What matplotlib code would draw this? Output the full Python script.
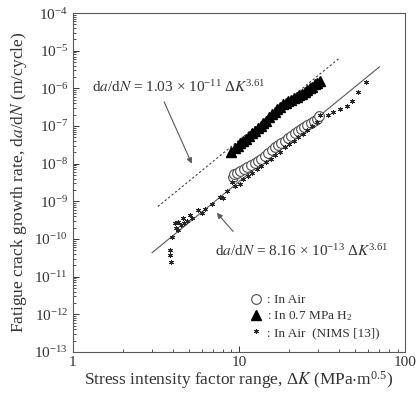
import numpy as np
import matplotlib
matplotlib.use("Agg")
import matplotlib.pyplot as plt
from matplotlib.ticker import LogLocator, NullFormatter

plt.rcParams['font.family'] = ['Liberation Serif', 'DejaVu Serif']
plt.rcParams['mathtext.fontset'] = 'stix'
plt.rcParams['mathtext.default'] = 'regular'

# In Air (open circles)
dk_air = [9.2, 9.3, 9.7, 10.2, 10.7, 11.2, 11.8, 12.4, 13.0, 13.6, 14.3, 15.0,
          15.7, 16.4, 17.2, 18.0, 18.8, 19.7, 20.6, 21.6, 22.6, 23.6, 24.7,
          25.8, 27.0, 28.2, 29.4, 30.5]
dadn_air = [4.5e-9, 5.4e-9, 5.6e-9, 6.4e-9, 7.3e-9, 8.3e-9, 9.4e-9, 1.06e-8,
            1.2e-8, 1.36e-8, 1.6e-8, 1.9e-8, 2.3e-8, 2.7e-8, 3.1e-8, 3.5e-8,
            4.1e-8, 4.8e-8, 5.6e-8, 6.5e-8, 7.4e-8, 8.4e-8, 9.5e-8, 1.06e-7,
            1.18e-7, 1.32e-7, 1.5e-7, 1.8e-7]

# In 0.7 MPa hydrogen (filled triangles)
dk_h2 = [9.0, 9.4, 9.8, 10.2, 10.6, 11.0, 11.5, 12.0, 12.5, 13.0, 13.5, 14.0,
         14.6, 15.2, 15.8, 16.4, 17.0, 17.7, 18.4, 19.1, 19.8, 20.6, 21.4,
         22.2, 23.0, 23.9, 24.8, 25.7, 26.6, 27.6, 28.6, 29.6, 30.6]
dadn_h2 = [2.1e-8, 2.6e-8, 3.0e-8, 3.5e-8, 4.1e-8, 4.6e-8, 5.5e-8, 6.4e-8,
           7.4e-8, 8.8e-8, 1.02e-7, 1.18e-7, 1.4e-7, 1.7e-7, 2.05e-7, 2.4e-7,
           2.9e-7, 3.3e-7, 3.8e-7, 4.2e-7, 4.6e-7, 5.0e-7, 5.5e-7, 6.0e-7,
           6.6e-7, 7.3e-7, 8.1e-7, 9.0e-7, 1.0e-6, 1.12e-6, 1.27e-6, 1.42e-6,
           1.6e-6]

# In Air, NIMS reference data
dk_nims = [3.84, 3.86, 3.88, 3.98, 4.1, 4.15, 4.3, 4.3, 4.45, 4.6, 4.7, 4.85,
           5.07, 5.2, 5.69, 6.0, 6.24, 6.85, 7.68, 8.0, 8.43, 9.05, 9.5, 10.1,
           10.6, 11.3, 12.0, 12.8, 13.6, 14.5, 15.5, 16.5, 17.6, 18.8, 20.0,
           21.3, 22.7, 24.2, 25.8, 27.5, 29.3, 30.8, 34.4, 36.8, 40.6, 44.7,
           48.0, 52.1, 58.2]
dadn_nims = [5.0e-11, 3.7e-11, 2.5e-11, 1.13e-10, 2.6e-10, 1.9e-10, 1.7e-10,
             2.8e-10, 2.3e-10, 3.5e-10, 2.6e-10, 3.0e-10, 4.2e-10, 3.6e-10,
             5.7e-10, 4.9e-10, 6.3e-10, 8.6e-10, 1.3e-9, 1.2e-9, 1.9e-9,
             3.2e-9, 2.6e-9, 2.9e-9, 3.9e-9, 4.6e-9, 5.7e-9, 7.2e-9, 8.8e-9,
             1.1e-8, 1.35e-8, 1.7e-8, 2.1e-8, 2.7e-8, 3.3e-8, 4.1e-8, 5.0e-8,
             6.3e-8, 7.9e-8, 9.9e-8, 1.3e-7, 2.0e-7, 2.0e-7, 2.3e-7, 2.75e-7,
             3.5e-7, 4.5e-7, 7.8e-7, 1.5e-6]

# Paris law fits: da/dN = C * dK^m
m_exp = 3.61
c_h2 = 1.03e-11
c_air = 8.16e-13
fit_h2_range = (3.25, 40.0)
fit_air_range = (3.0, 70.0)

fig = plt.figure(figsize=(4.16, 3.98), dpi=100)
ax = fig.add_axes([0.175, 0.116, 0.799, 0.851])

k1 = np.logspace(np.log10(fit_h2_range[0]), np.log10(fit_h2_range[1]), 50)
ax.plot(k1, c_h2 * k1 ** m_exp, color='0.25', lw=0.8, ls=(0, (2, 2)))
k2 = np.logspace(np.log10(fit_air_range[0]), np.log10(fit_air_range[1]), 50)
ax.plot(k2, c_air * k2 ** m_exp, color='0.35', lw=0.8)

ax.plot(dk_air, dadn_air, ls='none', marker='o', ms=7, mfc='white',
        mec='0.3', mew=0.8, label=': In Air')
ax.plot(dk_h2, dadn_h2, ls='none', marker='^', ms=6.5, mfc='black',
        mec='black', label=': In 0.7 MPa H$_2$')
ax.plot(dk_nims, dadn_nims, ls='none', marker=(6, 2, 0), ms=3.5,
        color='0.15', mew=0.7, label=': In Air  (NIMS [13])')

ax.set_xscale('log')
ax.set_yscale('log')
ax.set_xlim(1, 100)
ax.set_ylim(1e-13, 1e-4)

ax.xaxis.set_major_locator(LogLocator(base=10, numticks=10))
ax.xaxis.set_minor_locator(LogLocator(base=10, subs=np.arange(2, 10), numticks=10))
ax.xaxis.set_major_formatter(plt.FuncFormatter(lambda v, p: f"{v:g}"))
ax.xaxis.set_minor_formatter(NullFormatter())
ax.yaxis.set_major_locator(LogLocator(base=10, numticks=15))
ax.yaxis.set_minor_locator(LogLocator(base=10, subs=np.arange(2, 10), numticks=15))
ax.yaxis.set_minor_formatter(NullFormatter())

ax.tick_params(which='both', direction='in', top=False, right=False,
               labelsize=11, colors='0.2')
ax.tick_params(which='major', length=4, width=0.7)
ax.tick_params(which='minor', length=2.5, width=0.6)
ax.tick_params(axis='x', pad=3)
for sp in ax.spines.values():
    sp.set_color('0.35')
    sp.set_linewidth(0.8)

ax.set_xlabel(r'Stress intensity factor range, $\Delta\mathit{K}$ (MPa$\cdot$m$^{0.5}$)',
              fontsize=12.5, color='0.2', labelpad=0)
ax.set_ylabel(r'Fatigue crack growth rate, d$\mathit{a}$/d$\mathit{N}$ (m/cycle)',
              fontsize=12.5, color='0.2', labelpad=4)

# fit equations with pointers
ax.text(1.30, 1.11e-6,
        r'd$\mathit{a}$/d$\mathit{N}$ = 1.03 $\times$ 10$^{-11}$ $\Delta\mathit{K}^{3.61}$',
        fontsize=11, color='0.2', ha='left', va='center')
ax.annotate('', xy=(5.28, 8.6e-9), xytext=(3.49, 5.1e-7),
            arrowprops=dict(arrowstyle='-|>', color='0.35', lw=0.8,
                            mutation_scale=8))
ax.text(7.17, 4.9e-11,
        r'd$\mathit{a}$/d$\mathit{N}$ = 8.16 $\times$ 10$^{-13}$ $\Delta\mathit{K}^{3.61}$',
        fontsize=11, color='0.2', ha='left', va='center')
ax.annotate('', xy=(7.17, 5.6e-10), xytext=(9.46, 1.39e-10),
            arrowprops=dict(arrowstyle='-|>', color='0.35', lw=0.8,
                            mutation_scale=8))

ax.legend(loc='upper left', bbox_to_anchor=(0.51, 0.19), frameon=False,
          fontsize=9.5, borderpad=0, handlelength=1.0, handletextpad=0.4,
          labelspacing=0.25, labelcolor='0.2')

fig.savefig('out.png', dpi=100)
